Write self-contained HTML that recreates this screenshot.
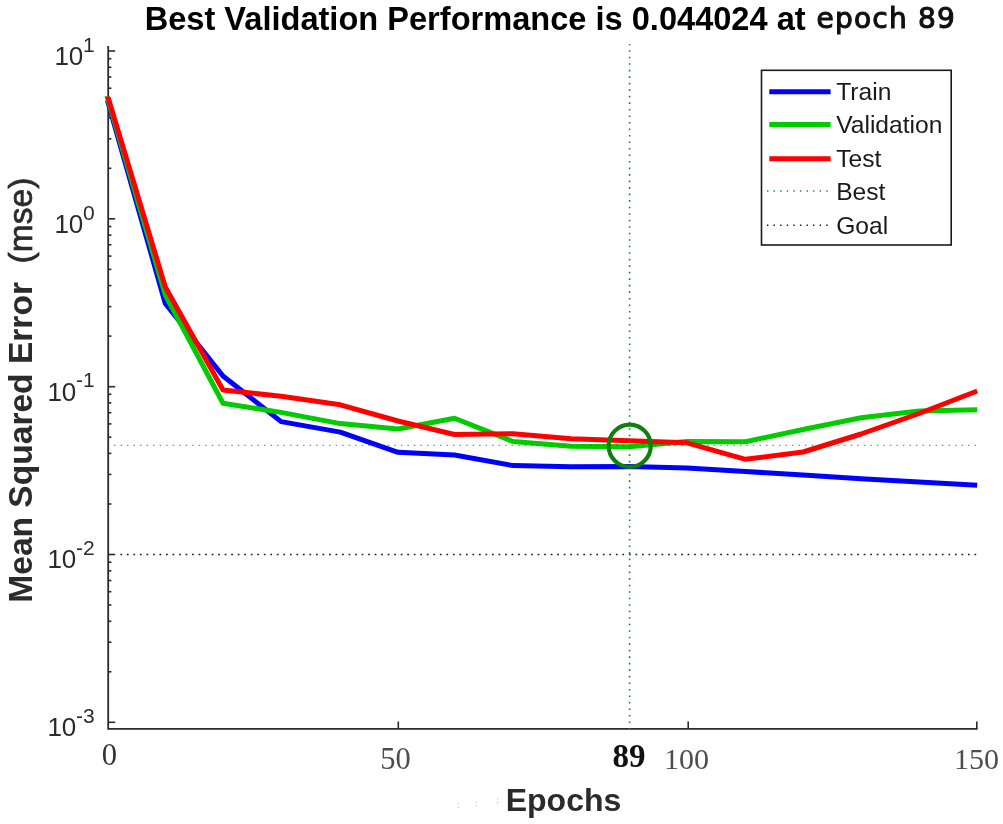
<!DOCTYPE html>
<html><head><meta charset="utf-8"><title>Performance</title>
<style>
html,body{margin:0;padding:0;background:#fff;}
svg{display:block}
.sans{font-family:"Liberation Sans",Arial,sans-serif}
.serif{font-family:"Liberation Serif","Times New Roman",serif}
.dj{font-family:"DejaVu Sans","Liberation Sans",sans-serif}
</style></head><body>
<svg width="1003" height="824" viewBox="0 0 1003 824">
<rect width="1003" height="824" fill="#fff"/>
<g stroke="#2b2b2b" stroke-width="1.6" fill="none">
<path d="M108.2 46V728.8H977.5999999999999" stroke-width="1.8"/>
<line x1="108.2" y1="51.0" x2="115.2" y2="51.0"/>
<line x1="108.2" y1="168.3" x2="111.4" y2="168.3"/>
<line x1="108.2" y1="138.8" x2="111.4" y2="138.8"/>
<line x1="108.2" y1="117.8" x2="111.4" y2="117.8"/>
<line x1="108.2" y1="101.5" x2="111.4" y2="101.5"/>
<line x1="108.2" y1="88.2" x2="111.4" y2="88.2"/>
<line x1="108.2" y1="77.0" x2="111.4" y2="77.0"/>
<line x1="108.2" y1="67.3" x2="111.4" y2="67.3"/>
<line x1="108.2" y1="58.7" x2="111.4" y2="58.7"/>
<line x1="108.2" y1="218.8" x2="115.2" y2="218.8"/>
<line x1="108.2" y1="336.1" x2="111.4" y2="336.1"/>
<line x1="108.2" y1="306.6" x2="111.4" y2="306.6"/>
<line x1="108.2" y1="285.6" x2="111.4" y2="285.6"/>
<line x1="108.2" y1="269.4" x2="111.4" y2="269.4"/>
<line x1="108.2" y1="256.1" x2="111.4" y2="256.1"/>
<line x1="108.2" y1="244.8" x2="111.4" y2="244.8"/>
<line x1="108.2" y1="235.1" x2="111.4" y2="235.1"/>
<line x1="108.2" y1="226.5" x2="111.4" y2="226.5"/>
<line x1="108.2" y1="386.7" x2="115.2" y2="386.7"/>
<line x1="108.2" y1="504.0" x2="111.4" y2="504.0"/>
<line x1="108.2" y1="474.4" x2="111.4" y2="474.4"/>
<line x1="108.2" y1="453.4" x2="111.4" y2="453.4"/>
<line x1="108.2" y1="437.2" x2="111.4" y2="437.2"/>
<line x1="108.2" y1="423.9" x2="111.4" y2="423.9"/>
<line x1="108.2" y1="412.7" x2="111.4" y2="412.7"/>
<line x1="108.2" y1="402.9" x2="111.4" y2="402.9"/>
<line x1="108.2" y1="394.3" x2="111.4" y2="394.3"/>
<line x1="108.2" y1="554.5" x2="115.2" y2="554.5"/>
<line x1="108.2" y1="671.8" x2="111.4" y2="671.8"/>
<line x1="108.2" y1="642.2" x2="111.4" y2="642.2"/>
<line x1="108.2" y1="621.3" x2="111.4" y2="621.3"/>
<line x1="108.2" y1="605.0" x2="111.4" y2="605.0"/>
<line x1="108.2" y1="591.7" x2="111.4" y2="591.7"/>
<line x1="108.2" y1="580.5" x2="111.4" y2="580.5"/>
<line x1="108.2" y1="570.8" x2="111.4" y2="570.8"/>
<line x1="108.2" y1="562.2" x2="111.4" y2="562.2"/>
<line x1="108.2" y1="722.3" x2="115.2" y2="722.3"/>
<line x1="398.3" y1="728.8" x2="398.3" y2="721.5"/>
<line x1="688.2" y1="728.8" x2="688.2" y2="721.5"/>
<line x1="976.8" y1="728.8" x2="976.8" y2="721.5"/>
</g>
<clipPath id="cp"><rect x="0" y="96.6" width="1003" height="640"/></clipPath><g clip-path="url(#cp)">
<polyline points="107.4,100.4 165.3,303.5 223.0,376.0 281.1,421.6 340.3,432.1 398.0,452.3 454.5,455.0 513.1,465.6 571.1,466.8 629.1,466.6 687.1,467.9 745.5,471.5 803.1,475.0 861.1,478.7 919.1,481.9 977.2,485.3" fill="none" stroke="#0000ff" stroke-width="5.0" stroke-linejoin="round"/>
<polyline points="106.7,95.2 165.3,295.0 223.0,403.3 281.1,412.4 340.3,423.6 398.0,429.0 454.5,418.2 513.1,441.5 571.1,446.2 629.1,446.8 687.1,441.6 745.5,441.7 803.1,429.5 861.1,417.7 919.1,411.0 977.2,409.7" fill="none" stroke="#00cc00" stroke-width="5.0" stroke-linejoin="round"/>
<polyline points="107.4,95.2 165.3,287.0 223.0,390.0 281.1,396.3 340.3,404.8 398.0,421.0 454.5,434.5 513.1,433.8 571.1,438.8 629.1,440.7 687.1,442.8 745.5,459.3 803.1,452.0 861.1,434.0 919.1,413.5 977.2,391.0" fill="none" stroke="#ff0000" stroke-width="5.0" stroke-linejoin="round"/>
</g>
<line x1="629.6" y1="729.5999999999999" x2="629.6" y2="44" stroke="#1a861a" stroke-width="1.6" stroke-dasharray="1.6 4.917"/>
<line x1="114.02" y1="445.4" x2="977" y2="445.4" stroke="#148214" stroke-opacity="0.72" stroke-width="1.4" stroke-dasharray="1.4 5.119999999999999"/>
<line x1="120.39000000000001" y1="554.5" x2="977" y2="554.5" stroke="#1a1a1a" stroke-width="1.7" stroke-dasharray="1.7 4.819999999999999"/>
<circle cx="629.7" cy="445.8" r="21.1" fill="none" stroke="#0c810c" stroke-width="4.2"/>
<text x="94.6" y="64.9" class="sans" font-size="26" text-anchor="end" fill="#2b2b2b">10<tspan dy="-13.2" dx="-0.4" font-size="21">1</tspan></text>
<text x="94.6" y="232.7" class="sans" font-size="26" text-anchor="end" fill="#2b2b2b">10<tspan dy="-13.2" dx="-0.4" font-size="21">0</tspan></text>
<text x="94.6" y="400.6" class="sans" font-size="26" text-anchor="end" fill="#2b2b2b">10<tspan dy="-13.2" dx="-0.4" font-size="21">-1</tspan></text>
<text x="94.6" y="568.4" class="sans" font-size="26" text-anchor="end" fill="#2b2b2b">10<tspan dy="-13.2" dx="-0.4" font-size="21">-2</tspan></text>
<text x="94.6" y="736.2" class="sans" font-size="26" text-anchor="end" fill="#2b2b2b">10<tspan dy="-13.2" dx="-0.4" font-size="21">-3</tspan></text>
<text x="109.3" y="765" class="serif" font-size="30.6" text-anchor="middle" fill="#333">0</text>
<text x="395.5" y="769" class="serif" font-size="30.5" text-anchor="middle" fill="#4d4d4d">50</text>
<text x="628.9" y="767.2" class="serif" font-size="33" font-weight="bold" text-anchor="middle" fill="#111">89</text>
<text x="686.5" y="769" class="serif" font-size="30" text-anchor="middle" fill="#4d4d4d">100</text>
<text x="976.5" y="769" class="serif" font-size="30" text-anchor="middle" fill="#4d4d4d">150</text>
<text x="563.5" y="810.7" class="sans" font-size="32" font-weight="bold" text-anchor="middle" fill="#2b2b2b">Epochs</text>
<text transform="translate(32 390.2) rotate(-90)" xml:space="preserve" class="sans" font-size="33.55" font-weight="bold" text-anchor="middle" fill="#2b2b2b">Mean Squared Error  <tspan font-weight="normal" stroke="#2b2b2b" stroke-width="0.7">(mse)</tspan></text>
<text x="144.7" y="30" class="sans" font-size="32.6" font-weight="bold" fill="#000">Best Validation Performance is 0.044024 at</text>
<text x="816.6" y="27.5" class="dj" font-size="28" fill="#111" stroke="#111" stroke-width="1.1" letter-spacing="1.2">epoch 89</text>
<rect x="457.9" y="803.3" width="1.2" height="1.2" fill="#c4c4c4"/>
<rect x="457.9" y="806.8" width="1.2" height="1.2" fill="#c4c4c4"/>
<rect x="475.7" y="801.6999999999999" width="1.2" height="1.2" fill="#c4c4c4"/>
<rect x="475.7" y="805.1" width="1.2" height="1.2" fill="#c4c4c4"/>
<rect x="497.0" y="798.4" width="1.2" height="1.2" fill="#c4c4c4"/>
<rect x="497.0" y="801.9" width="1.2" height="1.2" fill="#c4c4c4"/>
<rect x="761.5" y="70.3" width="189.7" height="174.7" fill="#fff" stroke="#1a1a1a" stroke-width="1.6"/>
<line x1="769.3" y1="91.7" x2="830.6" y2="91.7" stroke="#0000ff" stroke-width="5.0"/>
<text x="836.2" y="100.3" class="sans" font-size="24.6" fill="#1a1a1a">Train</text>
<line x1="769.3" y1="124.4" x2="830.6" y2="124.4" stroke="#00cc00" stroke-width="5.0"/>
<text x="836.2" y="133.0" class="sans" font-size="24.6" fill="#1a1a1a">Validation</text>
<line x1="769.3" y1="158.7" x2="830.6" y2="158.7" stroke="#ff0000" stroke-width="5.0"/>
<text x="836.2" y="167.3" class="sans" font-size="24.6" fill="#1a1a1a">Test</text>
<line x1="767.0" y1="191" x2="828" y2="191" stroke="#1f8a1f" stroke-width="1.4" stroke-dasharray="1.4 5.18"/>
<text x="836.2" y="199.6" class="sans" font-size="24.6" fill="#1a1a1a">Best</text>
<line x1="767.0" y1="225.2" x2="828" y2="225.2" stroke="#1a1a1a" stroke-width="1.4" stroke-dasharray="1.4 5.18"/>
<text x="836.2" y="233.8" class="sans" font-size="24.6" fill="#1a1a1a">Goal</text>
</svg>
</body></html>
